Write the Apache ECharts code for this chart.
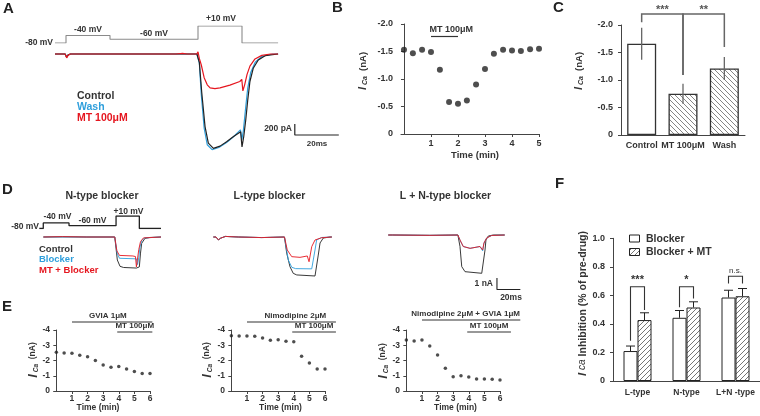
<!DOCTYPE html>
<html>
<head>
<meta charset="utf-8">
<script src="https://cdn.jsdelivr.net/npm/echarts@6.0.0/dist/echarts.min.js"></script>
<style>
html,body{margin:0;padding:0;background:#ffffff;}
#chart{width:760px;height:416px;}
</style>
</head>
<body>
<div id="chart"></div>
<script>
// ================= DATA =================
// Panel A: voltage protocol (ms, mV) and I_Ca traces ([ms, pA])
const aProtoMs = [0, 5, 25, 65, 85, 101.4];
const aProtoMv = [-80, -40, -60, 10, -80, -80];
const aControl = [[0,0],[4.6,0],[5.3,-60],[6,-15],[7,0],[25,0],[25.4,25],[26,0],[64.5,0],[65,35],[65.6,-150],[66.7,-700],[68.2,-1320],[69.7,-1620],[72,-1715],[75,-1675],[78,-1595],[81,-1505],[84.4,-1415],[85,-1690],[85.8,-1500],[86.7,-1200],[87.6,-840],[88.6,-500],[90.1,-260],[92.4,-110],[95.5,-30],[101.4,0]];
const aWash = [[0,0],[4.6,0],[5.3,-55],[6,-15],[7,0],[25,0],[26,0],[64.5,0],[65,30],[65.6,-160],[66.5,-740],[67.8,-1350],[69.2,-1650],[71.4,-1740],[74.5,-1700],[78,-1610],[81,-1510],[84.3,-1380],[84.9,-1560],[85.6,-1400],[86.6,-1000],[87.6,-620],[89,-330],[91,-150],[94,-45],[99,0],[101.4,0]];
const aMT = [[0,0],[4.6,0],[5.3,-70],[6,-20],[7,0],[25,0],[25.4,20],[26,0],[55,0],[58,10],[60,0],[64.5,0],[65,40],[65.6,-80],[66.5,-200],[67.8,-430],[69.2,-560],[70.5,-615],[72.7,-630],[75,-615],[79.5,-565],[84,-500],[84.9,-460],[85.4,-670],[86.2,-560],[87.3,-370],[88.6,-220],[90.9,-90],[94,-25],[98,0],[101.4,0]];
const aScaleMs = [109, 109, 129];          // 20 ms
const aScalePa = [-1273, -1473, -1473];    // 200 pA

// Panel B: I_Ca time course
const bTime = [0,0.33,0.67,1,1.33,1.67,2,2.33,2.67,3,3.33,3.67,4,4.33,4.67,5];
const bICa  = [-1.53,-1.47,-1.53,-1.49,-1.17,-0.58,-0.55,-0.61,-0.90,-1.18,-1.46,-1.53,-1.52,-1.51,-1.54,-1.55];

// Panel C: mean I_Ca
const cCats = ['Control', 'MT 100μM', 'Wash'];
const cMean = [-1.66, -0.75, -1.21];
const cSem  = [0.29, 0.18, 0.21];

// Panel D: protocol and traces ([ms, nA])
const dProtoMs = [0, 3.4, 25.4, 65.6, 85.5, 104];
const dProtoMv = [-80, -40, -60, 10, -80, -80];
const dNControl = [[3.5,0],[20,0.02],[40,0],[64.5,0],[65,0.1],[66.7,-2.0],[69,-2.55],[72,-2.65],[83,-2.7],[84,-2.75],[85.5,-2.6],[86.5,-1.4],[87.5,-0.55],[90.3,-0.12],[94.6,-0.04],[104,0]];
const dNBlocker = [[3.5,0],[40,0],[64.5,0],[65,0.1],[66.5,-1.4],[68.5,-1.85],[83,-1.9],[84,-2.4],[85,-1.8],[86,-0.9],[87.5,-0.3],[90,-0.08],[104,0]];
const dNMT = [[3.5,0],[20,0.03],[40,0],[64.5,0],[65,0.15],[66.3,-1.2],[68.5,-1.6],[80,-1.65],[82.2,-1.7],[83,-2.6],[83.8,-2.0],[85,-1.1],[86.5,-0.4],[89,-0.08],[104,0]];
const dLControl = [[3.7,0],[6,0],[8,-0.25],[10,-0.1],[14,0.05],[25,0],[45,-0.05],[64.5,0],[65,0.05],[66.4,-1.4],[69.2,-2.58],[72,-3.16],[75,-3.3],[90.6,-3.39],[92,-3.48],[93.4,-1.57],[94.9,-0.52],[97.7,-0.09],[103.4,0],[105,0]];
const dLBlocker = [[3.7,0],[6,0],[8,-0.25],[10,-0.1],[14,0.05],[25,0],[45,-0.05],[64.5,0],[65,0.05],[67.8,-2.0],[70.7,-2.63],[74,-2.75],[87.8,-2.77],[88.6,-2.9],[90.6,-1.13],[92,-0.26],[96.3,-0.04],[105,0]];
const dLMT = [[3.7,0],[6,0],[8,-0.25],[10,-0.1],[14,0.05],[25,0],[45,-0.05],[64.5,0],[65,0.05],[66.9,-1.13],[70.7,-1.71],[77.8,-1.77],[84,-1.65],[85.5,-2.15],[87.8,-0.84],[90.6,-0.26],[96.3,-0.06],[105,0]];
const dLNControl = [[4.5,0],[6,0.08],[8,0],[40,-0.03],[64,0],[64.6,0.15],[65.8,-1.0],[67.3,-2.75],[70.1,-3.19],[84.4,-3.33],[85.7,-3.25],[87.2,-1.3],[88,-0.43],[90,-0.09],[94.3,0],[104,0]];
const dLNBlocker = [[4.5,0],[6,0.08],[8,0],[40,-0.03],[64,0],[64.6,0.15],[65.8,-0.45],[68.6,-1.0],[74.4,-1.16],[82.9,-1.0],[85.2,-1.38],[86.3,-0.7],[88.6,-0.26],[92.9,-0.04],[104,0]];
const dLNMT = [[4.5,0],[6,0.08],[8,0],[40,-0.03],[64,0],[64.6,0.15],[65.8,-0.43],[68.6,-1.0],[74.4,-1.16],[82.9,-1.0],[85.2,-1.3],[86.3,-0.7],[88.6,-0.26],[92.9,-0.04],[104,0]];
const dScaleMs = [97.4, 97.4, 117.4];      // 20 ms
const dScaleNa = [-3.74, -4.74, -4.74];    // 1 nA

// Panel E: I_Ca time courses (min, nA)
const eTime = [0,0.5,1,1.5,2,2.5,3,3.5,4,4.5,5,5.5,6];
const eGVIA = [-2.54,-2.5,-2.48,-2.35,-2.25,-2.0,-1.7,-1.55,-1.6,-1.45,-1.28,-1.15,-1.15];
const eNimo = [-3.62,-3.6,-3.6,-3.59,-3.48,-3.32,-3.36,-3.26,-3.23,-2.28,-1.84,-1.44,-1.44];
const eBoth = [-3.34,-3.28,-3.34,-2.95,-2.36,-1.49,-0.94,-1.0,-0.92,-0.79,-0.79,-0.77,-0.72];

// Panel F: inhibition
const fCats = ['L-type', 'N-type', 'L+N -type'];
const fBlocker = [0.21, 0.443, 0.585];
const fBlockerSem = [0.035, 0.051, 0.051];
const fBlockerMT = [0.427, 0.515, 0.594];
const fBlockerMTSem = [0.051, 0.040, 0.054];

// ================= STYLE =================
const FF = '"Liberation Sans", Arial, Helvetica, sans-serif';
const TXT = '#333333';
const BLK = '#222222';
const BLUE = '#2f9fdc';
const RED = '#e5161f';
const GREY = '#8a8a8a';

function makeHatch(dir, color, s) {
  const c = document.createElement('canvas');
  c.width = s; c.height = s;
  const g = c.getContext('2d');
  g.fillStyle = '#ffffff'; g.fillRect(0, 0, s, s);
  g.strokeStyle = color; g.lineWidth = 0.9;
  g.beginPath();
  if (dir === '/') {
    g.moveTo(-1, s + 1); g.lineTo(s + 1, -1);
    g.moveTo(-1, 1); g.lineTo(1, -1);
    g.moveTo(s - 1, s + 1); g.lineTo(s + 1, s - 1);
  } else {
    g.moveTo(-1, -1); g.lineTo(s + 1, s + 1);
    g.moveTo(s - 1, -1); g.lineTo(s + 1, 1);
    g.moveTo(-1, s - 1); g.lineTo(1, s + 1);
  }
  g.stroke();
  return c;
}
const hatchC = makeHatch('\\', '#777777', 5);
const hatchF = makeHatch('/', '#666666', 5);

const pairs = (xs, ys) => xs.map((x, i) => [x, ys[i]]);

function trace(gi, data, color, w, z, step) {
  const s = { type: 'line', xAxisIndex: gi, yAxisIndex: gi, data, showSymbol: false, symbol: 'none',
    lineStyle: { color, width: w || 1 }, itemStyle: { color }, z: z || 2, silent: true, animation: false };
  if (step) s.step = step;
  return s;
}
function hid(gi, min, max) { return { gridIndex: gi, type: 'value', min, max, show: false }; }
const lbl = (size) => ({ fontFamily: FF, fontWeight: 'bold', fontSize: size, color: TXT });
function valX(gi, min, max, ticks, size, margin) {
  return { gridIndex: gi, type: 'value', min, max,
    axisLine: { show: true, lineStyle: { color: '#444', width: 1 } },
    axisTick: { show: true, length: 3, customValues: ticks, lineStyle: { color: '#444' } },
    axisLabel: Object.assign({ customValues: ticks, margin: margin }, lbl(size)),
    splitLine: { show: false } };
}
function valY(gi, min, max, interval, inverse, size, margin, fmt) {
  return { gridIndex: gi, type: 'value', min, max, interval, inverse,
    axisLine: { show: true, lineStyle: { color: '#444', width: 1 } },
    axisTick: { show: true, length: 3, lineStyle: { color: '#444' } },
    axisLabel: Object.assign({ margin: margin, formatter: fmt }, lbl(size)),
    splitLine: { show: false } };
}
const fmt1 = v => (v === 0 ? '0' : v.toFixed(1));
const fmt0 = v => String(v);

// drug-application bars drawn with the axis scale (x in data units, y offset from grid top)
function drugBars(gi, bars, size) {
  return { type: 'custom', xAxisIndex: gi, yAxisIndex: gi, silent: true, z: 10,
    data: bars.map(b => [b.from, b.to]),
    renderItem: (p, api) => {
      const b = bars[p.dataIndex];
      const cs = p.coordSys;
      const y = cs.y + b.dy;
      const x1 = api.coord([api.value(0), 0])[0];
      const x2 = api.coord([api.value(1), 0])[0];
      return { type: 'group', children: [
        { type: 'line', shape: { x1, y1: y, x2, y2: y }, style: { stroke: '#333', lineWidth: 1.2 } },
        { type: 'text', x: b.tx != null ? api.coord([b.tx, 0])[0] : (x1 + x2) / 2, y: y - 2,
          style: { text: b.text, fill: TXT, font: `bold ${size}px ${FF}`, align: 'center', verticalAlign: 'bottom' } }
      ] };
    } };
}

function T(x, y, text, size, o) {
  o = o || {};
  return { type: 'text', x, y, silent: true, rotation: o.rot || 0,
    style: Object.assign({ text, fill: o.color || TXT, font: `${o.weight || 'bold'} ${size}px ${FF}`,
      align: o.align || 'left', verticalAlign: o.va || 'middle' }, o.rich ? { rich: o.rich } : {}) };
}
function icaName(x, y, big, small, unit) {
  return T(x, y, '{i|I}{s| Ca}{n|  (nA)}', unit, { align: 'center', rot: Math.PI / 2,
    rich: { i: { font: `italic bold ${big}px ${FF}`, fill: TXT },
            s: { font: `italic bold ${small}px ${FF}`, fill: TXT, verticalAlign: 'bottom', padding: [0,0,0,0] },
            n: { font: `bold ${unit}px ${FF}`, fill: TXT } } });
}

const chart = echarts.init(document.getElementById('chart'), null, { renderer: 'canvas' });

const grids = [
  { left: 55, top: 26, width: 286, height: 17 },          // 0 A protocol
  { left: 55, top: 48.5, width: 286, height: 115.5 },     // 1 A current
  { left: 401, top: 24, width: 138, height: 110 },        // 2 B
  { left: 621, top: 25, width: 124, height: 110 },        // 3 C
  { left: 39.3, top: 216, width: 128.7, height: 12.5 },   // 4 D protocol
  { left: 39.3, top: 233.55, width: 128.7, height: 40.25 }, // 5 D N-type
  { left: 209, top: 233.55, width: 128.7, height: 44.85 },  // 6 D L-type
  { left: 383, top: 231.55, width: 140.4, height: 60.95 },  // 7 D L+N
  { left: 54, top: 330, width: 96, height: 61 },          // 8 E1
  { left: 229, top: 330, width: 96, height: 61 },         // 9 E2
  { left: 404, top: 330, width: 96, height: 61 },         // 10 E3
  { left: 613, top: 238.3, width: 147, height: 142.7 }    // 11 F
];

const eTicks = [1, 2, 3, 4, 5, 6];
const xAxes = [
  hid(0, 0, 130), hid(1, 0, 130),
  valX(2, -0.11, 5, [1, 2, 3, 4, 5], 9, 5),
  { gridIndex: 3, type: 'category', data: cCats,
    axisLine: { lineStyle: { color: '#444' } }, axisTick: { show: false },
    axisLabel: Object.assign({ margin: 6, interval: 0 }, lbl(9)) },
  hid(4, 0, 110), hid(5, 0, 110), hid(6, 0, 110), hid(7, 0, 120),
  valX(8, -0.15, 6, eTicks, 8.5, 3), valX(9, -0.15, 6, eTicks, 8.5, 3), valX(10, -0.15, 6, eTicks, 8.5, 3),
  { gridIndex: 11, type: 'category', data: fCats,
    axisLine: { lineStyle: { color: '#444' } }, axisTick: { show: false },
    axisLabel: Object.assign({ margin: 7, interval: 0 }, lbl(8.5)) }
];
const yAxes = [
  hid(0, -80, 10), hid(1, -2000, 100),
  valY(2, -2, 0, 0.5, true, 9, 8, fmt1),
  valY(3, -2, 0, 0.5, true, 9, 8, fmt1),
  hid(4, -80, 10), hid(5, -3.2, 0.3), hid(6, -3.6, 0.3), hid(7, -5, 0.3),
  valY(8, -4, 0, 1, true, 8.5, 4, fmt0), valY(9, -4, 0, 1, true, 8.5, 4, fmt0), valY(10, -4, 0, 1, true, 8.5, 4, fmt0),
  valY(11, 0, 1, 0.2, false, 9, 8, fmt1)
];

const cBrackets = [
  { a: 0, b: 1, top: -2.2, la: -2.05, lb: -1.09, txt: '***' },
  { a: 1, b: 2, top: -2.2, la: -1.09, lb: -1.6, txt: '**' }
];
const fBrackets = [
  { c: 0, top: 0.66, l: 0.282, r: 0.497, txt: '***' },
  { c: 1, top: 0.66, l: 0.517, r: 0.578, txt: '*' },
  { c: 2, top: 0.734, l: 0.683, r: 0.683, txt: 'n.s.' }
];
const HALF = 7; // half bar width in F (px)

const series = [
  // A
  trace(0, pairs(aProtoMs, aProtoMv), GREY, 1.1, 2, 'end'),
  trace(1, aWash, BLUE, 1.2, 3),
  trace(1, aControl, BLK, 1.2, 4),
  trace(1, aMT, RED, 1.2, 5),
  trace(1, pairs(aScaleMs, aScalePa), BLK, 1.2, 5),
  // B
  { type: 'scatter', xAxisIndex: 2, yAxisIndex: 2, data: pairs(bTime, bICa), symbolSize: 6,
    itemStyle: { color: BLK }, silent: true, z: 5 },
  drugBars(2, [{ from: 1, to: 2, dy: 12.5, text: 'MT 100μM', tx: 1.75 }], 9),
  // C
  { type: 'bar', xAxisIndex: 3, yAxisIndex: 3, barWidth: 29, silent: true,
    data: cMean.map((v, i) => ({ value: v, itemStyle: { color: i === 0 ? '#ffffff' : { image: hatchC, repeat: 'repeat' } } })),
    itemStyle: { borderColor: '#333', borderWidth: 1.3 } },
  { type: 'custom', xAxisIndex: 3, yAxisIndex: 3, silent: true, z: 6,
    data: cMean.map((m, i) => [i, m - cSem[i], m + cSem[i]]),
    renderItem: (p, api) => {
      const a = api.coord([api.value(0), api.value(1)]), b = api.coord([api.value(0), api.value(2)]);
      return { type: 'line', shape: { x1: a[0], y1: a[1], x2: b[0], y2: b[1] }, style: { stroke: '#666', lineWidth: 1.3 } };
    } },
  { type: 'custom', xAxisIndex: 3, yAxisIndex: 3, silent: true, z: 7,
    data: cBrackets.map(b => [b.a, b.top]),
    renderItem: (p, api) => {
      const b = cBrackets[p.dataIndex];
      const A = api.coord([b.a, b.la]), At = api.coord([b.a, b.top]), Bt = api.coord([b.b, b.top]), B = api.coord([b.b, b.lb]);
      return { type: 'group', children: [
        { type: 'polyline', shape: { points: [A, At, Bt, B] }, style: { stroke: '#666', lineWidth: 1.5, fill: null } },
        { type: 'text', x: (At[0] + Bt[0]) / 2, y: At[1] + 1, style: { text: b.txt, fill: '#555', font: `bold 11px ${FF}`, align: 'center', verticalAlign: 'bottom' } }
      ] };
    } },
  // D
  trace(4, pairs(dProtoMs, dProtoMv), BLK, 1.3, 2, 'end'),
  trace(5, dNControl, BLK, 0.9, 3), trace(5, dNBlocker, BLUE, 0.9, 4), trace(5, dNMT, RED, 0.9, 5),
  trace(6, dLControl, BLK, 0.9, 3), trace(6, dLBlocker, BLUE, 0.9, 4), trace(6, dLMT, RED, 0.9, 5),
  trace(7, dLNControl, BLK, 0.9, 3), trace(7, dLNBlocker, BLUE, 0.9, 4), trace(7, dLNMT, RED, 0.9, 5),
  trace(7, pairs(dScaleMs, dScaleNa), BLK, 1.1, 5),
  // E
  { type: 'scatter', xAxisIndex: 8, yAxisIndex: 8, data: pairs(eTime, eGVIA), symbolSize: 3.5, itemStyle: { color: BLK }, silent: true },
  { type: 'scatter', xAxisIndex: 9, yAxisIndex: 9, data: pairs(eTime, eNimo), symbolSize: 3.5, itemStyle: { color: BLK }, silent: true },
  { type: 'scatter', xAxisIndex: 10, yAxisIndex: 10, data: pairs(eTime, eBoth), symbolSize: 3.5, itemStyle: { color: BLK }, silent: true },
  drugBars(8, [{ from: 1, to: 6.15, dy: -8, text: 'GVIA 1μM', tx: 3.3 }, { from: 3.9, to: 6.15, dy: 2, text: 'MT 100μM' }], 8),
  drugBars(9, [{ from: 1, to: 6.7, dy: -8, text: 'Nimodipine 2μM', tx: 4.1 }, { from: 3.9, to: 6.7, dy: 2, text: 'MT 100μM' }], 8),
  drugBars(10, [{ from: 1, to: 7.3, dy: -10, text: 'Nimodipine 2μM + GVIA 1μM', tx: 3.8 }, { from: 3.9, to: 6.7, dy: 2, text: 'MT 100μM' }], 8),
  // F
  { type: 'bar', xAxisIndex: 11, yAxisIndex: 11, name: 'Blocker', data: fBlocker, barWidth: 14, barGap: '0%', silent: true,
    itemStyle: { color: '#ffffff', borderColor: '#222', borderWidth: 1 } },
  { type: 'bar', xAxisIndex: 11, yAxisIndex: 11, name: 'Blocker + MT', data: fBlockerMT, barWidth: 14, barGap: '0%', silent: true,
    itemStyle: { color: { image: hatchF, repeat: 'repeat' }, borderColor: '#222', borderWidth: 1 } },
  { type: 'custom', xAxisIndex: 11, yAxisIndex: 11, silent: true, z: 6,
    data: fBlocker.map((m, i) => [i, m, fBlockerSem[i], -1]).concat(fBlockerMT.map((m, i) => [i, m, fBlockerMTSem[i], 1])),
    renderItem: (p, api) => {
      const c = api.value(0), m = api.value(1), e = api.value(2), side = api.value(3);
      const a = api.coord([c, m]), b = api.coord([c, m + e]);
      const x = a[0] + side * HALF;
      return { type: 'group', children: [
        { type: 'line', shape: { x1: x, y1: a[1], x2: x, y2: b[1] }, style: { stroke: '#222', lineWidth: 1 } },
        { type: 'line', shape: { x1: x - 4.5, y1: b[1], x2: x + 4.5, y2: b[1] }, style: { stroke: '#222', lineWidth: 1 } }
      ] };
    } },
  { type: 'custom', xAxisIndex: 11, yAxisIndex: 11, silent: true, z: 7,
    data: fBrackets.map(b => [b.c, b.top]),
    renderItem: (p, api) => {
      const b = fBrackets[p.dataIndex];
      const t = api.coord([b.c, b.top]);
      const xl = t[0] - HALF, xr = t[0] + HALF;
      const yl = api.coord([b.c, b.l])[1], yr = api.coord([b.c, b.r])[1];
      return { type: 'group', children: [
        { type: 'polyline', shape: { points: [[xl, yl], [xl, t[1]], [xr, t[1]], [xr, yr]] }, style: { stroke: '#333', lineWidth: 1.1, fill: null } },
        { type: 'text', x: t[0], y: t[1] - 1, style: { text: b.txt, fill: '#333', font: `${b.txt === 'n.s.' ? '' : 'bold '}${b.txt === 'n.s.' ? 8 : 11}px ${FF}`, align: 'center', verticalAlign: 'bottom' } }
      ] };
    } }
];

const graphics = [
  // panel letters
  T(3, 9, 'A', 15, { color: '#222' }), T(332, 8, 'B', 15, { color: '#222' }), T(553, 8, 'C', 15, { color: '#222' }),
  T(2, 190, 'D', 15, { color: '#222' }), T(2, 307, 'E', 15, { color: '#222' }), T(555, 184, 'F', 15, { color: '#222' }),
  // A labels
  T(53, 43, '-80 mV', 8.5, { align: 'right' }), T(88, 30, '-40 mV', 8.5, { align: 'center' }),
  T(154, 34, '-60 mV', 8.5, { align: 'center' }), T(221, 19, '+10 mV', 8.5, { align: 'center' }),
  T(77, 96.5, 'Control', 10.5, { color: '#333' }), T(77, 107.5, 'Wash', 10.5, { color: BLUE }), T(77, 118, 'MT 100μM', 10.5, { color: RED }),
  T(292, 128.5, '200 pA', 8.5, { align: 'right' }), T(317, 143.5, '20ms', 8, { align: 'center' }),
  // B / C labels
  icaName(363, 71, 11, 7, 9.5), T(475, 155, 'Time (min)', 9.5, { align: 'center' }),
  icaName(579, 71, 11, 7, 9.5),
  // D labels
  T(102, 196, 'N-type blocker', 10.5, { align: 'center' }), T(269.5, 196, 'L-type blocker', 10.5, { align: 'center' }),
  T(445.5, 196, 'L + N-type blocker', 10.5, { align: 'center' }),
  T(39, 227, '-80 mV', 8.5, { align: 'right' }), T(57.5, 217, '-40 mV', 8.5, { align: 'center' }),
  T(92.5, 220.5, '-60 mV', 8.5, { align: 'center' }), T(128.5, 212, '+10 mV', 8.5, { align: 'center' }),
  T(39, 249, 'Control', 9.5), T(39, 259.5, 'Blocker', 9.5, { color: BLUE }), T(39, 270.5, 'MT + Blocker', 9.5, { color: RED }),
  T(493, 284, '1 nA', 8.5, { align: 'right' }), T(511, 297.5, '20ms', 8.5, { align: 'center' }),
  // E labels
  icaName(33, 360, 13, 6.5, 8.5), icaName(207, 360, 13, 6.5, 8.5), icaName(383, 361, 13, 6.5, 8.5),
  T(98, 408, 'Time (min)', 8.5, { align: 'center' }), T(280.5, 408, 'Time (min)', 8.5, { align: 'center' }),
  T(455.5, 408, 'Time (min)', 8.5, { align: 'center' }),
  // F labels
  T(582.7, 303.5, '{i|I} {s|ca} {n|Inhibition (% of pre-drug)}', 10.5, { align: 'center', rot: Math.PI / 2,
    rich: { i: { font: `italic bold 11.5px ${FF}`, fill: TXT }, s: { font: `italic 10px ${FF}`, fill: TXT }, n: { font: `bold 10.5px ${FF}`, fill: TXT } } }),
  { type: 'rect', shape: { x: 629.5, y: 235, width: 10, height: 7 }, style: { fill: '#fff', stroke: '#222', lineWidth: 1 }, silent: true },
  { type: 'rect', shape: { x: 629.5, y: 248.5, width: 10, height: 7 }, style: { fill: { image: hatchF, repeat: 'repeat' }, stroke: '#222', lineWidth: 1 }, silent: true },
  T(646, 239, 'Blocker', 10.5), T(646, 252, 'Blocker + MT', 10.5)
];

chart.setOption({
  animation: false,
  backgroundColor: '#ffffff',
  textStyle: { fontFamily: FF },
  grid: grids,
  xAxis: xAxes,
  yAxis: yAxes,
  series,
  graphic: graphics
});
</script>
</body>
</html>
